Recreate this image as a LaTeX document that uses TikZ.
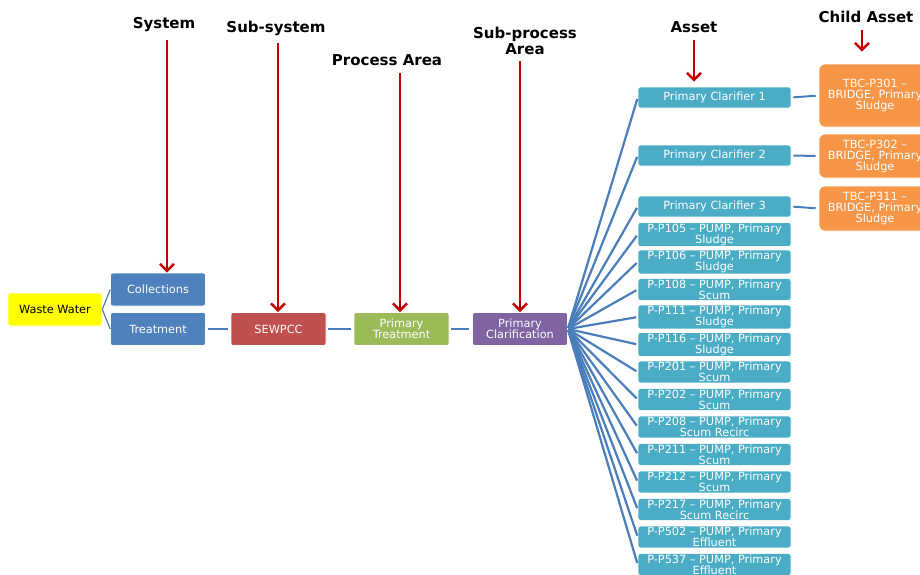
\documentclass[tikz,border=0pt]{standalone}
\usepackage{fontspec}
\setmainfont{DejaVu Sans}
\usetikzlibrary{arrows.meta}
\definecolor{wwyellow}{HTML}{FFFF00}
\definecolor{sysblue}{HTML}{4F81BD}
\definecolor{subred}{HTML}{C0504D}
\definecolor{procgreen}{HTML}{9BBB59}
\definecolor{subpurple}{HTML}{8064A2}
\definecolor{assetteal}{HTML}{4BACC6}
\definecolor{childorange}{HTML}{F79646}
\definecolor{linkblue}{HTML}{4A7EBB}
\definecolor{arrowred}{HTML}{C00000}
\begin{document}
\begin{tikzpicture}[x=1pt,y=-1pt,
    box/.style={rectangle,rounded corners=2.5pt,draw=white,line width=0.6pt,fill=#1,
      text=white,minimum width=95pt,minimum height=33pt,inner sep=1pt,align=center,
      font=\fontsize{11.3}{11}\selectfont},
    asset/.style={box=assetteal,minimum width=153pt,minimum height=21pt},
    childbox/.style={box=childorange,rounded corners=6pt,minimum width=112pt,
      font=\fontsize{11.3}{11}\selectfont},
    hdr/.style={font=\bfseries\fontsize{15}{16}\selectfont,align=center,inner sep=2pt},
    redarrow/.style={draw=arrowred,line width=2.6pt,-{Straight Barb[length=7pt,width=14pt]}},
    fan/.style={draw=linkblue,line width=2.2pt,shorten >=1.5pt,shorten <=1pt},
    link/.style={draw=linkblue,line width=2pt,shorten >=3pt,shorten <=2pt}]
  \clip (0,0) rectangle (920,574);
  \fill[white] (0,0) rectangle (920,574);

  % main chain
  \node[box=wwyellow,text=black,minimum width=94pt] (ww) at (55,309.5) {Waste Water};
  \node[box=sysblue] (coll) at (158,289.5) {Collections};
  \node[box=sysblue] (treat) at (158,329) {Treatment};
  \node[box=subred] (sewpcc) at (278.5,329) {SEWPCC};
  \node[box=procgreen] (ptreat) at (401.5,329) {Primary\\Treatment};
  \node[box=subpurple] (pclar) at (520,329) {Primary\\Clarification};

  \draw[linkblue,line width=1.2pt] (ww.east) -- (coll.west);
  \draw[linkblue,line width=1.2pt] (ww.east) -- (treat.west);
  \draw[link] (treat.east) -- (sewpcc.west);
  \draw[link] (sewpcc.east) -- (ptreat.west);
  \draw[link] (ptreat.east) -- (pclar.west);

  % assets
  \node[asset] (pc1) at (714.5,97.5) {Primary Clarifier 1};
  \node[asset] (pc2) at (714.5,155.5) {Primary Clarifier 2};
  \node[asset] (pc3) at (714.5,206.5) {Primary Clarifier 3};
  \foreach \pc in {pc1,pc2,pc3}
    \draw[fan] (pclar.east) -- (\pc.west);
  \foreach \tag/\kind [count=\i from 0] in {105/Sludge,106/Sludge,108/Scum,111/Sludge,
      116/Sludge,201/Scum,202/Scum,208/Scum Recirc,211/Scum,212/Scum,217/Scum Recirc,
      502/Effluent,537/Effluent} {
    \node[asset] (p\tag) at (714.5,234.5+27.5*\i) {P-P\tag{} \textendash{} PUMP, Primary\\\kind};
    \draw[fan] (pclar.east) -- (p\tag.west);
  }

  % child assets
  \node[childbox,minimum height=63pt] (tbc1) at (875,95.5) {TBC-P301 \textendash\\BRIDGE, Primary\\Sludge};
  \node[childbox,minimum height=44pt] (tbc2) at (875,156) {TBC-P302 \textendash\\BRIDGE, Primary\\Sludge};
  \node[childbox,minimum height=45pt] (tbc3) at (875,208.5) {TBC-P311 \textendash\\BRIDGE, Primary\\Sludge};
  \draw[link] (pc1.east) -- (tbc1.west);
  \draw[link] (pc2.east) -- (tbc2.west);
  \draw[link] (pc3.east) -- (tbc3.west);

  % level headings
  \node[hdr] (sys) at (164,25) {System};
  \node[hdr] (subsys) at (276,28) {Sub-system};
  \node[hdr] (parea) at (387,60) {Process Area};
  \node[hdr] (sparea) at (525,41) {Sub-process\\Area};
  \node[hdr] (asset) at (694,27) {Asset};
  \node[hdr] (child) at (866,17) {Child Asset};

  \draw[redarrow,shorten <=6pt] ([xshift=3pt]sys.south) -- ([xshift=3pt]sys.south |- coll.north);
  \draw[redarrow,shorten <=5pt] ([xshift=2pt]subsys.south) -- ([xshift=2pt]subsys.south |- sewpcc.north);
  \draw[redarrow,shorten <=5pt] ([xshift=13pt]parea.south) -- ([xshift=13pt]parea.south |- ptreat.north);
  \draw[redarrow,shorten <=4pt] ([xshift=-5pt]sparea.south) -- ([xshift=-5pt]sparea.south |- pclar.north);
  \draw[redarrow,shorten <=5pt,shorten >=5pt] (asset.south) -- (asset.south |- pc1.north);
  \draw[redarrow,shorten <=5pt,shorten >=12pt] ([xshift=-4pt]child.south) -- ([xshift=-4pt]child.south |- tbc1.north);
\end{tikzpicture}
\end{document}
